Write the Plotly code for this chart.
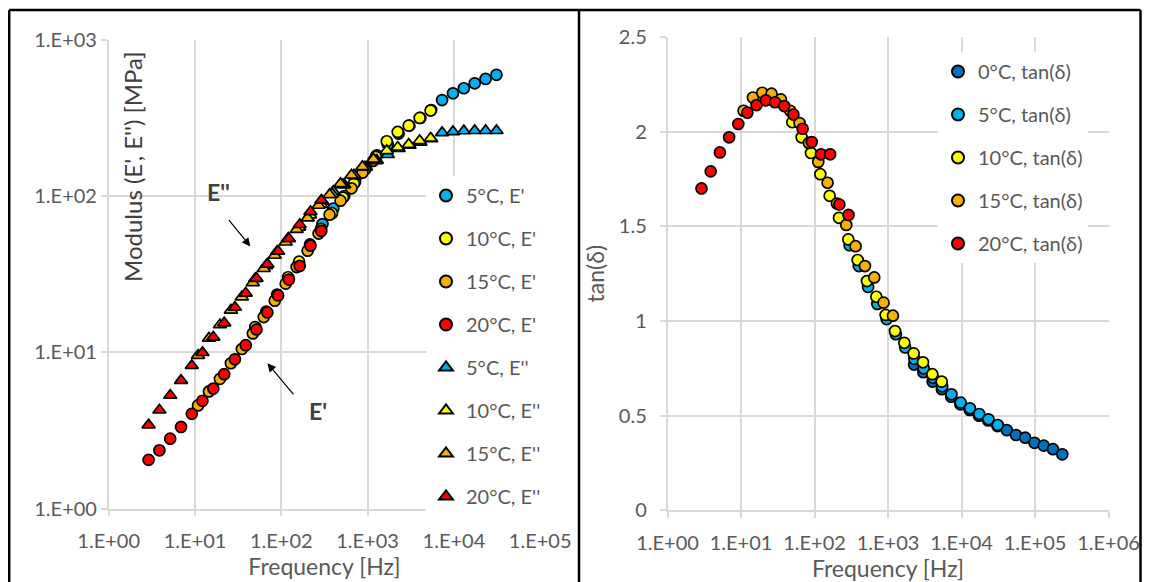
import plotly.graph_objects as go

# ---------------- data ----------------
# Frequencies [Hz] for each temperature (master-curve shifted)
freq_0C = [2265, 3027, 4046, 5408, 7229, 9662, 12915, 17262, 23072, 30838, 41218, 55092, 73636, 98422, 131551, 175831, 235016]
freq_5C = [300, 401, 536, 716, 958, 1280, 1711, 2287, 3056, 4085, 5460, 7298, 9755, 13039, 17428, 23294, 31135]
freq_10C = [49.9, 66.8, 89.5, 120.0, 160.7, 215.3, 288.4, 386.4, 517.7, 693.5, 929.1, 1245, 1668, 2234, 2993, 4010, 5372]
freq_15C = [10.84, 14.52, 19.45, 26.06, 34.91, 46.77, 62.66, 83.94, 112.5, 150.7, 201.9, 270.4, 362.3, 485.4, 650.3, 871.2, 1167]
freq_20C = [2.90, 3.87, 5.16, 6.89, 9.18, 12.2, 16.3, 21.8, 29.0, 38.7, 51.6, 68.9, 91.8, 122.5, 163.3, 217.8, 290.4]

# Storage modulus E' [MPa]
E1_5C = [66.1, 83.2, 100, 123, 151, 182, 214, 251, 282, 316, 355, 411, 454, 489, 526, 561, 596]
E1_10C = [14.5, 18.2, 23.4, 30.2, 38.0, 49.0, 61.7, 77.6, 97.7, 120, 148, 178, 224, 257, 282, 316, 352]
E1_15C = [4.57, 5.62, 6.76, 8.51, 10.5, 13.2, 16.8, 21.4, 27.5, 35.1, 44.7, 57.5, 75.9, 93.3, 112, 141, 168]
E1_20C = [2.05, 2.36, 2.80, 3.33, 4.04, 4.89, 5.86, 7.24, 9.02, 11.1, 14.0, 18.0, 23.1, 29.2, 35.7, 48.1, 59.8]

# Loss modulus E'' [MPa]
E2_5C = [92.5, 107, 118, 134, 153, 169, 184, 201, 211, 221, 232, 254, 258, 261, 262, 262, 262]
E2_10C = [29.6, 35.8, 44.3, 53.6, 63.1, 75.7, 88.3, 103, 118, 136, 153, 168, 195, 205, 214, 226, 234]
E2_15C = [9.55, 12.3, 15.0, 18.6, 22.6, 27.9, 34.3, 41.7, 50.7, 61.0, 72.4, 87.1, 102, 120, 136, 154, 172]
E2_20C = [3.43, 4.27, 5.31, 6.61, 8.22, 9.95, 12.5, 15.4, 19.4, 23.9, 29.7, 36.6, 44.3, 53.3, 65.6, 79.4, 93.8]

# Loss factor tan(delta)
tan_0C = [0.77, 0.73, 0.68, 0.64, 0.60, 0.56, 0.53, 0.50, 0.475, 0.445, 0.424, 0.398, 0.384, 0.357, 0.342, 0.323, 0.296]
tan_5C = [1.40, 1.29, 1.18, 1.09, 1.01, 0.93, 0.86, 0.80, 0.75, 0.70, 0.655, 0.613, 0.569, 0.539, 0.509, 0.481, 0.451]
tan_10C = [2.05, 1.97, 1.887, 1.775, 1.661, 1.545, 1.431, 1.322, 1.211, 1.128, 1.032, 0.947, 0.885, 0.829, 0.782, 0.719, 0.680]
tan_15C = [2.11, 2.18, 2.205, 2.20, 2.17, 2.11, 2.045, 1.94, 1.84, 1.73, 1.62, 1.507, 1.395, 1.29, 1.23, 1.097, 1.028]
tan_20C = [1.70, 1.79, 1.89, 1.97, 2.04, 2.10, 2.14, 2.165, 2.155, 2.135, 2.09, 2.015, 1.945, 1.88, 1.88, 1.615, 1.56]

left_xticks = [1, 10, 100, 1000, 10000, 100000]
left_xtext = ["1.E+00", "1.E+01", "1.E+02", "1.E+03", "1.E+04", "1.E+05"]
left_yticks = [1, 10, 100, 1000]
left_ytext = ["1.E+00", "1.E+01", "1.E+02", "1.E+03"]
right_xticks = [1, 10, 100, 1000, 10000, 100000, 1000000]
right_xtext = ["1.E+00", "1.E+01", "1.E+02", "1.E+03", "1.E+04", "1.E+05", "1.E+06"]

# ---------------- style ----------------
# The page body has an 8px margin: the figure is sized to fit inside the window
OFF = 8
W, H = 1150 - 2 * OFF, 582 - OFF
FONT = "Lato"
TXT = "#595959"
GRID = "#D9D9D9"
C_DBLUE = "#0070C0"
C_LBLUE = "#00B0F0"
C_YEL = "#FFFF00"
C_ORA = "#F7B000"
C_RED = "#FF0000"

def px_x(p):
    # window pixel -> paper fraction
    return (p - OFF) / W

def px_y(p):
    return 1 - (p - OFF) / H

fig = go.Figure()

mk_line = dict(color="black", width=1.7)

left_E1 = [("5°C, E'", freq_5C, E1_5C, C_LBLUE), ("10°C, E'", freq_10C, E1_10C, C_YEL),
           ("15°C, E'", freq_15C, E1_15C, C_ORA), ("20°C, E'", freq_20C, E1_20C, C_RED)]
left_E2 = [("5°C, E''", freq_5C, E2_5C, C_LBLUE), ("10°C, E''", freq_10C, E2_10C, C_YEL),
           ("15°C, E''", freq_15C, E2_15C, C_ORA), ("20°C, E''", freq_20C, E2_20C, C_RED)]

for i, (name, fx, fy, col) in enumerate(left_E1):
    fig.add_trace(go.Scatter(x=fx, y=fy, mode="markers", name=name, legendgroup="L%d" % i,
                             marker=dict(symbol="circle", size=11, color=col, line=mk_line),
                             xaxis="x", yaxis="y", legend="legend"))
for i, (name, fx, fy, col) in enumerate(left_E2):
    fig.add_trace(go.Scatter(x=fx, y=fy, mode="markers", name=name, legendgroup="L%d" % (i + 4),
                             marker=dict(symbol="triangle-up", size=11.5, color=col, line=mk_line),
                             xaxis="x", yaxis="y", legend="legend"))

right_tan = [("0°C, tan(δ)", freq_0C, tan_0C, C_DBLUE), ("5°C, tan(δ)", freq_5C, tan_5C, C_LBLUE),
             ("10°C, tan(δ)", freq_10C, tan_10C, C_YEL), ("15°C, tan(δ)", freq_15C, tan_15C, C_ORA),
             ("20°C, tan(δ)", freq_20C, tan_20C, C_RED)]
for i, (name, fx, fy, col) in enumerate(right_tan):
    fig.add_trace(go.Scatter(x=fx, y=fy, mode="markers", name=name, legendgroup="R%d" % i,
                             marker=dict(symbol="circle", size=11, color=col, line=mk_line),
                             xaxis="x2", yaxis="y2", legend="legend2"))

axis_common = dict(showgrid=True, gridcolor=GRID, gridwidth=1.5, showline=True, linecolor=GRID,
                   linewidth=1.5, ticks="outside", ticklen=6, tickcolor=GRID, tickwidth=1.5,
                   tickfont=dict(family=FONT, size=20, color=TXT), zeroline=False, automargin=False,
                   title_font=dict(family=FONT, size=23, color=TXT))

fig.update_layout(
    width=W, height=H, margin=dict(l=0, r=0, t=0, b=0, autoexpand=False),
    paper_bgcolor="white", plot_bgcolor="white",
    font=dict(family=FONT, size=20, color=TXT),
    xaxis=dict(type="log", range=[0, 5], domain=[px_x(108.7), px_x(540.2)], anchor="y",
               tickvals=left_xticks, ticktext=left_xtext, ticklabelstandoff=8,
               title=dict(text="Frequency [Hz]", standoff=1), **axis_common),
    yaxis=dict(type="log", range=[0, 3], domain=[px_y(508.6), px_y(39.7)], anchor="x",
               tickvals=left_yticks, ticktext=left_ytext, ticklabelstandoff=0, **axis_common),
    xaxis2=dict(type="log", range=[0, 6], domain=[px_x(667.5), px_x(1108.5)], anchor="y2",
                tickvals=right_xticks, ticktext=right_xtext, ticklabelstandoff=8,
                title=dict(text="Frequency [Hz]", standoff=1), **axis_common),
    yaxis2=dict(range=[0, 2.5], dtick=0.5, domain=[px_y(510.4), px_y(36.9)], anchor="x2",
                ticklabelstandoff=9, title=dict(text="tan(δ)", standoff=8), **axis_common),
    legend=dict(x=px_x(426), y=px_y(176), xanchor="left", yanchor="top", bgcolor="white",
                font=dict(family=FONT, size=20, color=TXT), tracegroupgap=14,
                traceorder="grouped", itemsizing="constant"),
    legend2=dict(x=px_x(938), y=px_y(52), xanchor="left", yanchor="top", bgcolor="white",
                 font=dict(family=FONT, size=20, color=TXT), tracegroupgap=14,
                 traceorder="grouped", itemsizing="constant"),
    showlegend=True,
)

# Left y-axis title sits inside the plot, near the top (as in the original)
fig.add_annotation(text="Modulus (E', E'') [MPa]", xref="paper", yref="paper",
                   x=px_x(132), y=px_y(167), xanchor="center", yanchor="middle",
                   textangle=-90, showarrow=False,
                   font=dict(family=FONT, size=24, color="#404040"))

# E'' / E' labels with arrows
fig.add_annotation(text="<b>E''</b>", xref="paper", yref="paper", x=px_x(218), y=px_y(192),
                   xanchor="center", yanchor="middle", showarrow=False,
                   font=dict(family=FONT, size=23, color="#404040"))
fig.add_annotation(text="<b>E'</b>", xref="paper", yref="paper", x=px_x(318), y=px_y(411),
                   xanchor="center", yanchor="middle", showarrow=False,
                   font=dict(family=FONT, size=23, color="#404040"))
fig.add_annotation(text="", xref="paper", yref="paper", x=px_x(250.4), y=px_y(246.4),
                   ax=-22.7, ay=-27.7, showarrow=True, arrowhead=2, arrowsize=1.4,
                   arrowwidth=1.2, arrowcolor="black")
fig.add_annotation(text="", xref="paper", yref="paper", x=px_x(267.5), y=px_y(363.3),
                   ax=27.2, ay=32.5, showarrow=True, arrowhead=2, arrowsize=1.4,
                   arrowwidth=1.2, arrowcolor="black")

# Outer frame lines of the two chart panels
frame = dict(color="black", width=2.5)
xl, xm, xr, yt = px_x(9.2), px_x(579), px_x(1140.5), px_y(10)
fig.add_shape(type="line", xref="paper", yref="paper", x0=xl, x1=xr, y0=yt, y1=yt, line=frame)
fig.add_shape(type="line", xref="paper", yref="paper", x0=xl, x1=xl, y0=yt, y1=0, line=frame)
fig.add_shape(type="line", xref="paper", yref="paper", x0=xm, x1=xm, y0=yt, y1=0, line=frame)
fig.add_shape(type="line", xref="paper", yref="paper", x0=xr, x1=xr, y0=yt, y1=0, line=frame)

fig.write_html("out.html")
